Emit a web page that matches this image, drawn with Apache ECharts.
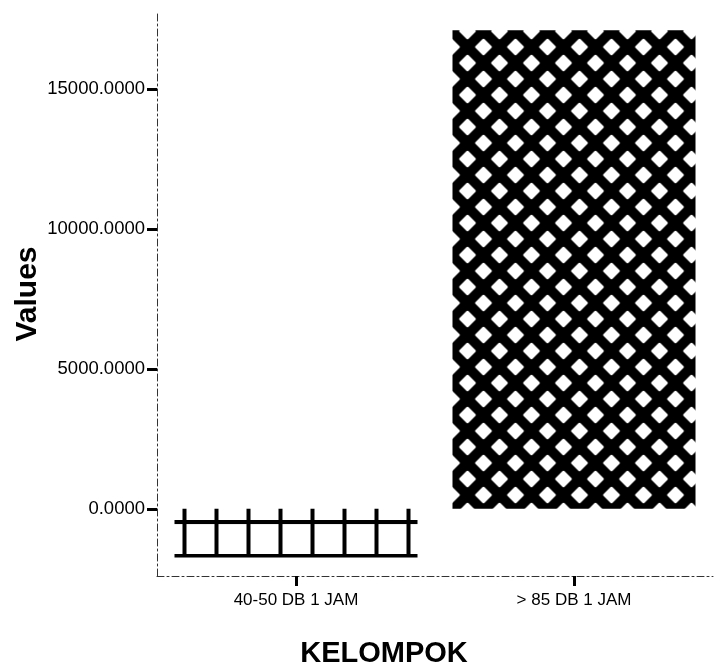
<!DOCTYPE html>
<html><head><meta charset="utf-8">
<script src="https://cdn.jsdelivr.net/npm/echarts@6/dist/echarts.min.js"></script>
<style>html,body{margin:0;padding:0;background:#fff}#c{width:716px;height:666px}</style>
</head><body><div id="c"></div>
<script>
const categories = ['40-50 DB 1 JAM', '> 85 DB 1 JAM'];
const values = [-1740, 17100];
const yTicks = [0, 5000, 10000, 15000];
const xTitle = 'KELOMPOK';
const yTitle = 'Values';

const FONT = '"Liberation Sans", Arial, sans-serif';

function gridPattern() {
  const c = document.createElement('canvas'); c.width = 32; c.height = 34;
  const g = c.getContext('2d');
  g.fillStyle = '#fff'; g.fillRect(0, 0, 32, 34);
  g.fillStyle = '#000'; g.fillRect(0, 0, 4, 34); g.fillRect(0, 0, 32, 4);
  return c;
}
function diamondPattern() {
  const c = document.createElement('canvas'); c.width = 32; c.height = 32;
  const g = c.getContext('2d');
  g.fillStyle = '#000'; g.fillRect(0, 0, 32, 32);
  g.fillStyle = '#fff'; g.strokeStyle = '#fff'; g.lineJoin = 'round'; g.lineWidth = 2.5;
  const r = 7;
  [[0,0],[32,0],[0,32],[32,32],[16,16]].forEach(([cx, cy]) => {
    g.beginPath();
    g.moveTo(cx - r, cy); g.lineTo(cx, cy - r); g.lineTo(cx + r, cy); g.lineTo(cx, cy + r); g.closePath();
    g.fill(); g.stroke();
  });
  return c;
}

const patterns = [
  { image: gridPattern(), repeat: 'repeat', x: 182.5, y: 520 },
  { image: diamondPattern(), repeat: 'repeat', x: 451.5, y: 207 }
];

const chart = echarts.init(document.getElementById('c'), null, { renderer: 'canvas' });
chart.setOption({
  animation: false,
  backgroundColor: '#fff',
  title: {
    text: xTitle, left: 379, top: 634, textAlign: 'center',
    textStyle: { fontSize: 29, fontWeight: 'bold', color: '#000', fontFamily: FONT }
  },
  grid: { left: 157, top: 12, width: 556, height: 564 },
  xAxis: {
    type: 'category', data: categories,
    axisLine: { show: true, onZero: false, lineStyle: { color: '#333', width: 1, type: [7, 3, 2, 3] } },
    axisTick: { show: true, alignWithLabel: true, length: 10, lineStyle: { color: '#000', width: 3 } },
    axisLabel: { fontSize: 17, color: '#000', margin: 16, fontFamily: FONT }
  },
  yAxis: {
    type: 'value', min: -2400, max: 17750,
    axisLine: { show: true, lineStyle: { color: '#333', width: 1, type: [7, 3, 2, 3] } },
    axisTick: { show: true, length: 10, customValues: yTicks, lineStyle: { color: '#000', width: 3 } },
    axisLabel: { customValues: yTicks, formatter: v => Number(v).toFixed(4), fontSize: 18.5, color: '#000', margin: 12, fontFamily: FONT },
    splitLine: { show: false },
    name: yTitle, nameLocation: 'middle', nameGap: 114, nameMoveOverlap: false,
    nameTextStyle: { fontSize: 30, fontWeight: 'bold', color: '#000', fontFamily: FONT }
  },
  series: [{
    type: 'bar', barWidth: 243,
    data: values.map((v, i) => ({ value: v, itemStyle: { color: patterns[i] } }))
  }]
});
</script></body></html>
